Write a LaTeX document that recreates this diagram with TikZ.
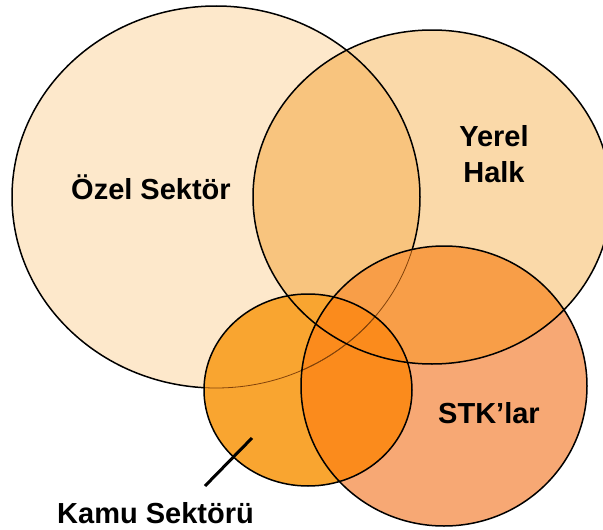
\documentclass[tikz,border=0pt]{standalone}
\usepackage{fontspec}
\setmainfont{Liberation Sans}
\usepackage{tikz}
\usetikzlibrary{positioning}
\definecolor{oezelfill}{RGB}{253,232,203}
\definecolor{yerelfill}{RGB}{250,217,169}
\definecolor{oyfill}{RGB}{248,196,126}
\definecolor{kamufill}{RGB}{249,165,48}
\definecolor{stkfill}{RGB}{247,168,116}
\definecolor{syfill}{RGB}{248,158,72}
\definecolor{ksfill}{RGB}{251,139,28}
\definecolor{fadedge}{RGB}{130,66,10}
\tikzset{outline/.style = {draw=black, line width=1.5pt}}
\tikzset{faintline/.style = {draw=fadedge, line width=0.8pt}}
\tikzset{vennlabel/.style = {font=\bfseries\fontsize{29}{36}\selectfont,
                             inner sep=0pt}}
\tikzset{pointer/.style = {draw=black, line width=3pt}}
\newcommand{\oezelpath}{(oezelc) ellipse [x radius=204pt, y radius=191pt]}
\newcommand{\yerelpath}{(yerelc) ellipse [x radius=179pt, y radius=167pt]}
\newcommand{\kamupath}{(kamuc) ellipse [x radius=104pt, y radius=96pt]}
\newcommand{\stkpath}{(stkc) ellipse [x radius=143pt, y radius=140pt]}

\begin{document}
\begin{tikzpicture}[x=1pt, y=-1pt]
      \useasboundingbox (0, 0) rectangle (603, 530);
      \coordinate (oezelc) at (216, 197);
      \coordinate (yerelc) at (432, 197);
      \coordinate (kamuc) at (308, 390);
      \coordinate (stkc) at (444, 386);

      \fill [oezelfill] \oezelpath;
      \fill [yerelfill] \yerelpath;
      \begin{scope}
        \clip \oezelpath;
        \fill [oyfill] \yerelpath;
      \end{scope}
      \draw [outline] \oezelpath;

      \fill [kamufill] \kamupath;
      \fill [stkfill] \stkpath;
      \begin{scope}
        \clip \stkpath;
        \fill [syfill] \yerelpath;
      \end{scope}
      \begin{scope}
        \clip \kamupath;
        \fill [ksfill] \stkpath;
      \end{scope}

      % edge of the big circle shows only faintly under the lower two
      \begin{scope}
        \clip \kamupath;
        \draw [faintline] \oezelpath;
      \end{scope}
      \begin{scope}
        \clip \stkpath;
        \draw [faintline] \oezelpath;
      \end{scope}

      \draw [outline] \yerelpath;
      \draw [outline] \kamupath;
      \draw [outline] \stkpath;

      \node [vennlabel, anchor=base west] (oezellbl) at (71, 199) {Özel Sektör};
      \node [vennlabel, anchor=base] (yerellbl) at (494, 146) {Yerel};
      \node [vennlabel, anchor=base] (halklbl) at ([yshift=-36pt]yerellbl.base) {Halk};
      \node [vennlabel, anchor=base] (stklbl) at (489, 423) {STK’lar};
      \node [vennlabel, anchor=base west] (kamulbl) at (57, 523) {Kamu Sektörü};

      \coordinate (kamutip) at (252, 438);
      \coordinate (kamutail) at (205, 486);
      \draw [pointer] (kamutip) -- (kamutail);
    \end{tikzpicture}
\end{document}
